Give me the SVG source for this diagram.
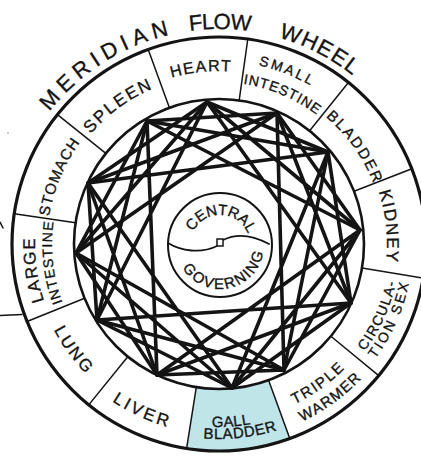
<svg xmlns="http://www.w3.org/2000/svg" xmlns:xlink="http://www.w3.org/1999/xlink" width="421" height="456" viewBox="0 0 421 456">
<style>
.ink{fill:none;stroke:#141414;stroke-linecap:round;stroke-linejoin:round}
.lbl{font-family:"Liberation Sans","DejaVu Sans",sans-serif;fill:#141414;stroke:#141414;stroke-width:0.35;text-anchor:middle}
.star{fill:none;stroke:#141414;stroke-width:3.6;stroke-linecap:round}
</style>
<defs>
<path id="o30" d="M-30 0A30 30 0 0 1 30 0"/>
<path id="o162" d="M-162 0A162 162 0 0 1 162 0"/>
<path id="o166" d="M-166 0A166 166 0 0 1 166 0"/>
<path id="o167" d="M-167 0A167 167 0 0 1 167 0"/>
<path id="o168" d="M-168 0A168 168 0 0 1 168 0"/>
<path id="o169" d="M-169 0A169 169 0 0 1 169 0"/>
<path id="o172" d="M-172 0A172 172 0 0 1 172 0"/>
<path id="o173" d="M-173 0A173 173 0 0 1 173 0"/>
<path id="o183" d="M-183 0A183 183 0 0 1 183 0"/>
<path id="o184" d="M-184 0A184 184 0 0 1 184 0"/>
<path id="o215" d="M-215 0A215 215 0 0 1 215 0"/>
<path id="i44" d="M-44 0A44 44 0 0 0 44 0"/>
<path id="i177" d="M-177 0A177 177 0 0 0 177 0"/>
<path id="i181" d="M-181 0A181 181 0 0 0 181 0"/>
<path id="i183" d="M-183 0A183 183 0 0 0 183 0"/>
<path id="i186" d="M-186 0A186 186 0 0 0 186 0"/>
<path id="i190" d="M-190 0A190 190 0 0 0 190 0"/>
<path id="i194" d="M-194 0A194 194 0 0 0 194 0"/>
<path id="i195" d="M-195 0A195 195 0 0 0 195 0"/>
<path id="i196" d="M-196 0A196 196 0 0 0 196 0"/>
</defs>
<rect width="421" height="456" fill="#ffffff"/>

<g id="title" class="lbl" font-size="22">
<g transform="translate(219 244) rotate(328)"><text letter-spacing="5.3"><textPath href="#o215" startOffset="50%">MERIDIAN</textPath></text></g>
<g transform="translate(219 244) rotate(0.2)"><text letter-spacing="-0.8"><textPath href="#o215" startOffset="50%">FLOW</textPath></text></g>
<g transform="translate(219 244) rotate(27.4)"><text letter-spacing="1.4"><textPath href="#o215" startOffset="50%">WHEEL</textPath></text></g>
</g>

<g id="gall-bladder-fill">
<path d="M268.59 380.26L289.79 438.52A207 207 0 0 1 186.62 448.45L196.32 387.22A145 145 0 0 0 268.59 380.26Z" fill="#bfe5e8"/>
</g>

<g id="wheel">
<circle class="ink" cx="219" cy="244" r="207" stroke-width="3.2"/>
<circle class="ink" cx="219" cy="244" r="145" stroke-width="2.6"/>
<path class="ink" stroke-width="1.5" d="M239.18 100.41L247.81 39.01M309.65 130.84L348.42 82.46M354.1 191.32L411.86 168.8M362.01 267.93L423.16 278.16M330.88 336.23L378.72 375.67M268.59 380.26L289.79 438.52M196.32 387.22L186.62 448.45M127.75 356.68L88.73 404.86M84.56 298.32L27.07 321.54M75.55 222.82L14.22 213.76M105.84 153.35L57.46 114.58M169.41 107.74L148.21 49.48"/>
</g>

<g id="connectors" class="star">
<path d="M207 102L328 152M277 113L360 230M328 152L351 303M360 230L284 370M351 303L232 388M284 370L157 375M232 388L97 320M157 375L76 253M97 320L88 183M76 253L147 121M88 183L207 102M147 121L277 113"/>
<path d="M207 102L360 230M277 113L351 303M328 152L284 370M360 230L232 388M351 303L157 375M284 370L97 320M232 388L76 253M157 375L88 183M97 320L147 121M76 253L207 102M88 183L277 113M147 121L328 152"/>
<path d="M207 102L351 303M277 113L284 370M328 152L232 388M360 230L157 375M351 303L97 320M284 370L76 253M232 388L88 183M157 375L147 121M97 320L207 102M76 253L277 113M88 183L328 152M147 121L360 230"/>
</g>

<g id="heart" class="lbl"><g transform="translate(219 244) rotate(354.2)"><text font-size="16" letter-spacing="1.5"><textPath href="#o173" startOffset="50%">HEART</textPath></text></g></g>
<g id="spleen" class="lbl"><g transform="translate(219 244) rotate(324)"><text font-size="17" letter-spacing="2"><textPath href="#o169" startOffset="50%">SPLEEN</textPath></text></g></g>
<g id="small-intestine" class="lbl">
<g transform="translate(219 244) rotate(21.6)"><text font-size="14" letter-spacing="2.5"><textPath href="#o183" startOffset="50%">SMALL</textPath></text></g>
<g transform="translate(219 244) rotate(23)"><text font-size="14" letter-spacing="0.9"><textPath href="#o162" startOffset="50%">INTESTINE</textPath></text></g>
</g>
<g id="bladder" class="lbl"><g transform="translate(219 244) rotate(54.6)"><text font-size="15" letter-spacing="2"><textPath href="#o166" startOffset="50%">BLADDER</textPath></text></g></g>
<g id="kidney" class="lbl"><g transform="translate(219 244) rotate(84.1)"><text font-size="17" letter-spacing="1.5"><textPath href="#o168" startOffset="50%">KIDNEY</textPath></text></g></g>
<g id="circulation-sex" class="lbl">
<g transform="translate(219 244) rotate(-65.9)"><text font-size="14" letter-spacing="1.4"><textPath href="#i181" startOffset="50%">CIRCULA-</textPath></text></g>
<g transform="translate(219 244) rotate(-66.3)"><text font-size="14" letter-spacing="2.5"><textPath href="#i194" startOffset="50%">TION SEX</textPath></text></g>
</g>
<g id="triple-warmer" class="lbl">
<g transform="translate(219 244) rotate(-35.5)"><text font-size="15" letter-spacing="1.8"><textPath href="#i177" startOffset="50%">TRIPLE</textPath></text></g>
<g transform="translate(219 244) rotate(-36)"><text font-size="15" letter-spacing="1.2"><textPath href="#i196" startOffset="50%">WARMER</textPath></text></g>
</g>
<g id="gall-bladder" class="lbl">
<g transform="translate(219 244) rotate(-3.9)"><text font-size="15" letter-spacing="0.3"><textPath href="#i183" startOffset="50%">GALL</textPath></text></g>
<g transform="translate(219 244) rotate(-6.4)"><text font-size="15" letter-spacing="0.6"><textPath href="#i195" startOffset="50%">BLADDER</textPath></text></g>
</g>
<g id="liver" class="lbl"><g transform="translate(219 244) rotate(24.6)"><text font-size="17" letter-spacing="3"><textPath href="#i190" startOffset="50%">LIVER</textPath></text></g></g>
<g id="lung" class="lbl"><g transform="translate(219 244) rotate(53.8)"><text font-size="17" letter-spacing="2.5"><textPath href="#i186" startOffset="50%">LUNG</textPath></text></g></g>
<g id="large-intestine" class="lbl">
<g transform="translate(219 244) rotate(262.1)"><text font-size="17" letter-spacing="1.5"><textPath href="#o184" startOffset="50%">LARGE</textPath></text></g>
<g transform="translate(219 244) rotate(263.7)"><text font-size="14" letter-spacing="1.1"><textPath href="#o167" startOffset="50%">INTESTINE</textPath></text></g>
</g>
<g id="stomach" class="lbl"><g transform="translate(219 244) rotate(292.8)"><text font-size="15" letter-spacing="1"><textPath href="#o172" startOffset="50%">STOMACH</textPath></text></g></g>

<g id="central-governing">
<circle cx="220" cy="245" r="52" fill="#ffffff" stroke="#141414" stroke-width="2"/>
<path class="ink" stroke-width="1.8" d="M168 243C181 251 201 254 217 246M223 240C237 233 254 236 269 244"/>
<rect x="217" y="239" width="6" height="7" fill="#ffffff" stroke="#141414" stroke-width="1.5"/>
<g class="lbl" transform="translate(220 245) rotate(2)"><text font-size="15" letter-spacing="-0.2"><textPath href="#o30" startOffset="50%">CENTRAL</textPath></text></g>
<g class="lbl" transform="translate(220 245) rotate(-12)"><text font-size="15" letter-spacing="1.8"><textPath href="#i44" startOffset="50%">GOVERNING</textPath></text></g>
</g>

<g id="margin-marks">
<path class="ink" stroke-width="1.5" d="M0 315.5L22 314.5M0 222L3 228"/>
<circle cx="8" cy="133" r="0.8" fill="#888"/>
</g>
</svg>
